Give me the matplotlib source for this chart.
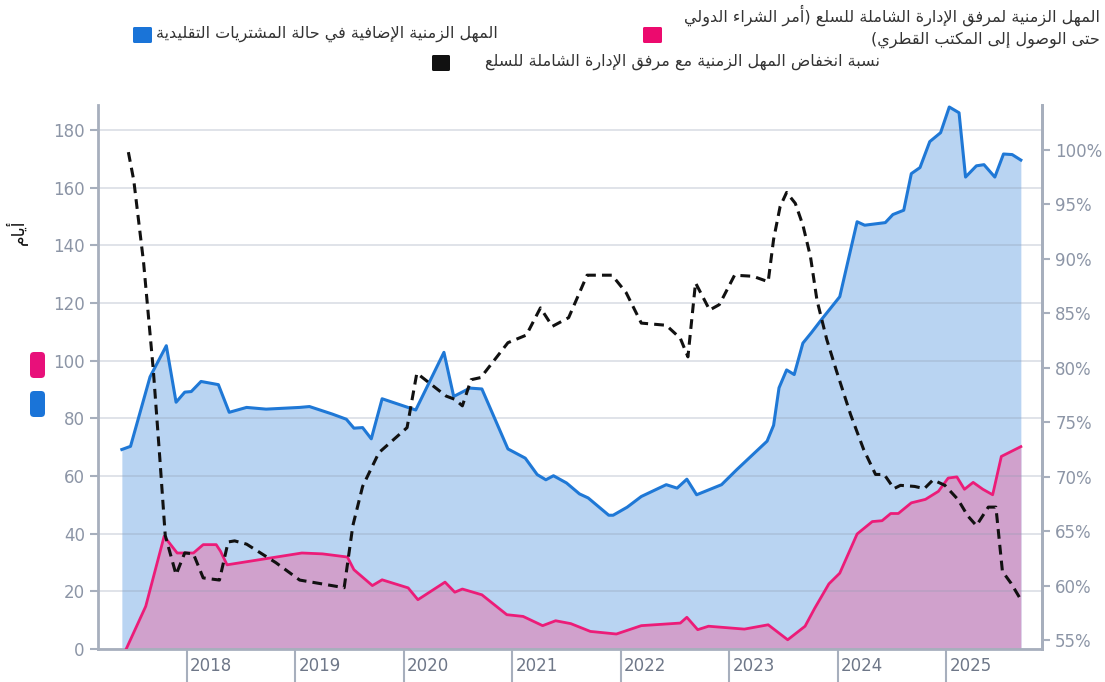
import numpy as np
import matplotlib
matplotlib.use('Agg')
import matplotlib.pyplot as plt
from matplotlib.patches import FancyBboxPatch
from matplotlib.transforms import IdentityTransform, blended_transform_factory

# --- data (x in decimal years) ---
blue_x = [2017.40, 2017.48, 2017.66, 2017.81, 2017.90, 2017.98, 2018.04, 2018.13, 2018.29, 2018.39,
          2018.55, 2018.73, 2019.04, 2019.13, 2019.34, 2019.47, 2019.54, 2019.62, 2019.70, 2019.80,
          2020.11, 2020.37, 2020.46, 2020.61, 2020.72, 2020.96, 2021.12, 2021.23, 2021.31, 2021.38,
          2021.50, 2021.62, 2021.70, 2021.89, 2021.93, 2022.06, 2022.19, 2022.42, 2022.52, 2022.61,
          2022.70, 2022.93, 2023.07, 2023.35, 2023.41, 2023.46, 2023.53, 2023.60, 2023.68, 2023.76,
          2023.85, 2024.02, 2024.18, 2024.25, 2024.44, 2024.51, 2024.61, 2024.68, 2024.76, 2024.85,
          2024.95, 2025.03, 2025.12, 2025.18, 2025.28, 2025.35, 2025.45, 2025.53, 2025.61, 2025.69]
blue_days = [69.2, 70.3, 94.4, 105.2, 85.6, 89.1, 89.3, 92.8, 91.7, 82.1,
             83.8, 83.2, 83.8, 84.1, 81.5, 79.7, 76.6, 76.8, 72.9, 86.8,
             82.9, 102.9, 87.6, 90.5, 90.2, 69.4, 66.2, 60.5, 58.7, 60.1,
             57.6, 53.8, 52.4, 46.4, 46.4, 49.2, 52.9, 57.0, 55.8, 58.9,
             53.5, 57.0, 62.2, 72.1, 77.6, 90.6, 96.8, 95.2, 106.1, 109.8,
             114.2, 122.2, 148.2, 147.0, 147.9, 150.7, 152.2, 164.9, 167.0, 176.0,
             179.1, 188.0, 186.0, 163.7, 167.6, 168.0, 163.7, 171.7, 171.5, 169.6]

pink_x = [2017.44, 2017.62, 2017.79, 2017.91, 2018.06, 2018.15, 2018.27, 2018.31, 2018.37, 2019.06,
          2019.25, 2019.48, 2019.54, 2019.71, 2019.80, 2020.04, 2020.13, 2020.38, 2020.47, 2020.54,
          2020.72, 2020.95, 2021.10, 2021.28, 2021.40, 2021.54, 2021.72, 2021.96, 2022.19, 2022.55,
          2022.61, 2022.71, 2022.81, 2023.14, 2023.36, 2023.54, 2023.70, 2023.79, 2023.92, 2024.02,
          2024.18, 2024.32, 2024.41, 2024.49, 2024.56, 2024.68, 2024.81, 2024.93, 2025.02, 2025.10,
          2025.17, 2025.25, 2025.34, 2025.43, 2025.51, 2025.69]
pink_days = [0.0, 14.8, 39.1, 33.3, 33.3, 36.2, 36.2, 33.9, 29.2, 33.3,
             33.0, 31.9, 27.5, 22.0, 24.0, 21.2, 17.1, 23.2, 19.7, 20.8,
             18.8, 11.9, 11.3, 8.1, 9.8, 8.8, 6.1, 5.2, 8.1, 9.0,
             11.0, 6.7, 7.9, 6.9, 8.4, 3.2, 7.9, 14.2, 22.6, 26.3,
             39.9, 44.2, 44.5, 47.0, 47.0, 50.7, 51.9, 54.7, 59.3, 59.7,
             55.4, 57.8, 55.4, 53.5, 66.8, 70.2]

ratio_x = [2017.46, 2017.51, 2017.60, 2017.69, 2017.75, 2017.80, 2017.90, 2017.98, 2018.06, 2018.15,
           2018.30, 2018.38, 2018.44, 2018.55, 2018.82, 2019.04, 2019.45, 2019.53, 2019.62, 2019.77,
           2020.03, 2020.12, 2020.39, 2020.47, 2020.54, 2020.62, 2020.71, 2020.96, 2021.13, 2021.26,
           2021.37, 2021.52, 2021.69, 2021.92, 2022.05, 2022.19, 2022.42, 2022.55, 2022.62, 2022.69,
           2022.82, 2022.91, 2023.05, 2023.22, 2023.36, 2023.41, 2023.47, 2023.53, 2023.61, 2023.68,
           2023.75, 2023.81, 2023.90, 2023.99, 2024.12, 2024.24, 2024.35, 2024.43, 2024.52, 2024.58,
           2024.71, 2024.80, 2024.88, 2024.99, 2025.11, 2025.20, 2025.28, 2025.39, 2025.46, 2025.52,
           2025.60, 2025.69]
ratio_pct = [99.8, 97.2, 89.7, 79.8, 71.7, 64.6, 61.0, 63.0, 62.9, 60.7,
             60.5, 64.0, 64.1, 63.8, 62.1, 60.5, 59.8, 65.5, 69.1, 72.2,
             74.5, 79.5, 77.4, 77.1, 76.5, 78.9, 79.1, 82.3, 83.0, 85.5,
             83.8, 84.6, 88.5, 88.5, 86.9, 84.1, 83.9, 82.7, 81.0, 87.8,
             85.3, 85.8, 88.5, 88.4, 87.9, 91.8, 94.8, 96.1, 95.1, 93.1,
             90.2, 86.2, 82.6, 79.7, 75.7, 72.5, 70.2, 70.2, 68.9, 69.2,
             69.1, 68.9, 69.7, 69.2, 67.9, 66.4, 65.5, 67.2, 67.2, 61.3,
             60.2, 58.7]

years = [2018, 2019, 2020, 2021, 2022, 2023, 2024, 2025]
left_ticks = list(range(0, 181, 20))
right_ticks = list(range(55, 101, 5))

label_blue = 'المهل الزمنية الإضافية في حالة المشتريات التقليدية'
label_pink_1 = 'المهل الزمنية لمرفق الإدارة الشاملة للسلع (أمر الشراء الدولي'
label_pink_2 = 'حتى الوصول إلى المكتب القطري)'
label_ratio = 'نسبة انخفاض المهل الزمنية مع مرفق الإدارة الشاملة للسلع'
label_days = 'أيام'

# --- arabic shaping (matplotlib draws glyphs left to right, unjoined) ---
AR_LETTERS = 'ءآأؤإئابةتثجحخدذرزسشصضطظعغفقكلمنهوىي'
AR_NFORMS = [1, 2, 2, 2, 2, 4, 2, 4, 2, 4, 4, 4, 4, 4, 2, 2, 2, 2,
             4, 4, 4, 4, 4, 4, 4, 4, 4, 4, 4, 4, 4, 4, 4, 2, 2, 4]
AR_FIRST = {}
_code = 0xFE80
for _ch, _n in zip(AR_LETTERS, AR_NFORMS):
    AR_FIRST[_ch] = (_code, _n)
    _code += _n
LAM_ALEF = {'آ': 0xFEF5, 'أ': 0xFEF7, 'إ': 0xFEF9, 'ا': 0xFEFB}


def rtl(text):
    out = []
    i = 0
    while i < len(text):
        ch = text[i]
        prev = text[i - 1] if i > 0 else ''
        joins_prev = prev in AR_FIRST and AR_FIRST[prev][1] == 4
        nxt = text[i + 1] if i + 1 < len(text) else ''
        if ch == 'ل' and nxt in LAM_ALEF:
            out.append(chr(LAM_ALEF[nxt] + (1 if joins_prev else 0)))
            i += 2
            continue
        if ch in AR_FIRST:
            base, n = AR_FIRST[ch]
            joins_next = n == 4 and nxt in AR_FIRST and nxt != 'ء'
            if n == 1:
                form = 0
            elif n == 2:
                form = 1 if joins_prev else 0
            elif joins_prev and joins_next:
                form = 3
            elif joins_prev:
                form = 1
            elif joins_next:
                form = 2
            else:
                form = 0
            out.append(chr(base + form))
        else:
            out.append(ch)
        i += 1
    return ''.join(out)[::-1].translate(str.maketrans('()', ')('))


plt.rcParams['font.family'] = ['DejaVu Sans']

W, H = 1105, 682
fig = plt.figure(figsize=(W / 100, H / 100), dpi=100)
ax = fig.add_axes([98 / W, 1 - 649 / H, (1042 - 98) / W, (649 - 105) / H])

axis_grey = '#a7afbd'
tick_grey = '#8c95a6'

ax.fill_between(blue_x, blue_days, 0, color='#b9d4f2', lw=0, zorder=1)
ax.fill_between(pink_x, pink_days, 0, color='#d0a1cc', lw=0, zorder=1.1)
ax.plot(blue_x, blue_days, color='#1f78d6', lw=2.2, zorder=3, clip_on=False)
ax.plot(pink_x, pink_days, color='#ec1c78', lw=2.0, zorder=3)

ax.set_xlim(2017.18, 2025.885)
ax.set_ylim(0, 188.7)
ax.set_yticks(left_ticks)
ax.set_yticklabels([str(t) for t in left_ticks])
ax.grid(axis='y', color='#8f9bb0', alpha=0.3, lw=1.3)
ax.set_axisbelow('line')
ax.tick_params(axis='y', colors=axis_grey, labelcolor=tick_grey, labelsize=12, length=6, width=1.5)
ax.set_xticks(years)
ax.set_xticklabels([])
ax.tick_params(axis='x', colors=axis_grey, length=24, width=1.5)
tr = blended_transform_factory(ax.transData, ax.transAxes)
for yr in years:
    ax.text(yr + 0.03, -0.032, str(yr), transform=tr, ha='left', va='center',
            fontsize=12, color='#6e7788')
for side in ['left', 'bottom', 'right']:
    ax.spines[side].set_color(axis_grey)
    ax.spines[side].set_linewidth(2)
ax.spines['top'].set_visible(False)

ax2 = ax.twinx()
ax2.plot(ratio_x, ratio_pct, color='#111111', lw=2.2, linestyle=(0, (3.2, 2.0)), zorder=4)
ax2.set_ylim(54.17, 104.13)
ax2.set_yticks(right_ticks)
ax2.set_yticklabels([f'{t}%' for t in right_ticks])
ax2.tick_params(axis='y', colors=axis_grey, labelcolor=tick_grey, labelsize=12, length=6, width=1.5)
for side in ['left', 'bottom', 'top']:
    ax2.spines[side].set_visible(False)
ax2.spines['right'].set_color(axis_grey)
ax2.spines['right'].set_linewidth(2)


def box(x0, y0, w, h, color, r=2):
    # pixel coords measured from the top-left corner
    p = FancyBboxPatch((x0, H - y0 - h), w, h, boxstyle=f'round,pad=0,rounding_size={r}',
                       transform=IdentityTransform(), facecolor=color, edgecolor='none')
    fig.add_artist(p)


# legend keys
box(133, 27, 19, 16, '#1a74d8', 1.5)
box(643, 27, 19, 16, '#ec0a6e', 1.5)
box(432, 55, 18, 16, '#111111', 1.5)
box(30, 352, 15, 26, '#e8107a', 4)
box(30, 391, 15, 26, '#1a74d8', 4)

fs = 11.5
fig.text(498 / W, 1 - 34 / H, rtl(label_blue), ha='right', va='center', fontsize=fs, color='#333333')
fig.text(1100 / W, 1 - 15 / H, rtl(label_pink_1), ha='right', va='center', fontsize=fs, color='#333333')
fig.text(1100 / W, 1 - 40 / H, rtl(label_pink_2), ha='right', va='center', fontsize=fs, color='#333333')
fig.text(880 / W, 1 - 62 / H, rtl(label_ratio), ha='right', va='center', fontsize=fs, color='#333333')
fig.text(17 / W, 1 - 232 / H, rtl(label_days), ha='center', va='center', fontsize=12.5,
         rotation=90, color='#111111')

fig.savefig('out.png', dpi=100)
